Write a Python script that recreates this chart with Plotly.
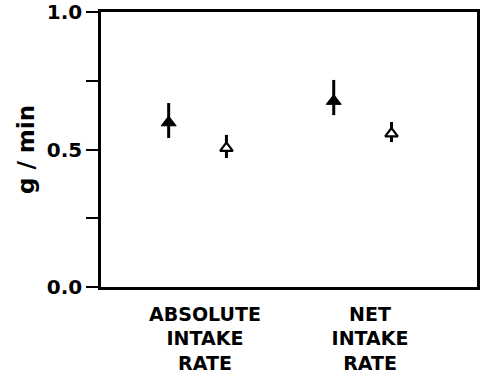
import plotly.graph_objects as go

# Data
categories = ["ABSOLUTE<br>INTAKE<br>RATE", "NET<br>INTAKE<br>RATE"]
group_pos = [0, 1]
filled_mean = [0.598, 0.676]
filled_hi = [0.669, 0.753]
filled_lo = [0.542, 0.625]
open_mean = [0.505, 0.558]
open_hi = [0.553, 0.600]
open_lo = [0.469, 0.527]
filled_offset = -0.22
open_offset = 0.13
y_tickvals = [0.0, 0.25, 0.5, 0.75, 1.0]
y_ticktext = ["0.0", "", "0.5", "", "1.0"]

FONT = "DejaVu Sans, Liberation Sans, Arial, sans-serif"

fig = go.Figure()
fig.add_trace(go.Scatter(
    x=[g + filled_offset for g in group_pos], y=filled_mean,
    mode="markers",
    marker=dict(symbol="triangle-up", size=13, color="black", line=dict(color="black", width=1)),
    error_y=dict(type="data", symmetric=False,
                 array=[h - m for h, m in zip(filled_hi, filled_mean)],
                 arrayminus=[m - l for l, m in zip(filled_lo, filled_mean)],
                 color="black", thickness=3, width=0),
    showlegend=False,
))
fig.add_trace(go.Scatter(
    x=[g + open_offset for g in group_pos], y=open_mean,
    mode="markers",
    marker=dict(symbol="triangle-up", size=11, color="white", line=dict(color="black", width=2.2)),
    error_y=dict(type="data", symmetric=False,
                 array=[h - m for h, m in zip(open_hi, open_mean)],
                 arrayminus=[m - l for l, m in zip(open_lo, open_mean)],
                 color="black", thickness=3, width=0),
    showlegend=False,
))

fig.update_layout(
    width=481, height=376,
    margin=dict(l=101, r=4, t=12, b=89),
    paper_bgcolor="white", plot_bgcolor="white",
    font=dict(family=FONT, color="black", size=20, weight="bold"),
)
fig.update_xaxes(
    range=[-0.63, 1.648],
    tickvals=group_pos,
    ticktext=categories,
    tickangle=0, automargin=False, ticklabeloverflow="allow",
    ticks="", showgrid=False, zeroline=False,
    showline=True, linecolor="black", linewidth=2.5, mirror=True,
    tickfont=dict(family=FONT, size=19, color="black", weight="bold"),
    ticklabelstandoff=8,
)
fig.update_yaxes(
    range=[0, 1], automargin=False, ticklabeloverflow="allow",
    tickvals=y_tickvals, ticktext=y_ticktext,
    ticks="outside", ticklen=12, tickwidth=2, tickcolor="black",
    showgrid=False, zeroline=False,
    showline=True, linecolor="black", linewidth=2.5, mirror=True,
    tickfont=dict(family=FONT, size=20, color="black", weight="bold"),
    title=dict(text="g / min", font=dict(family=FONT, size=23, color="black", weight="bold"), standoff=6),
)

fig.write_html("out.html", config={"displayModeBar": False},
               post_script="document.body.style.margin='0';")
